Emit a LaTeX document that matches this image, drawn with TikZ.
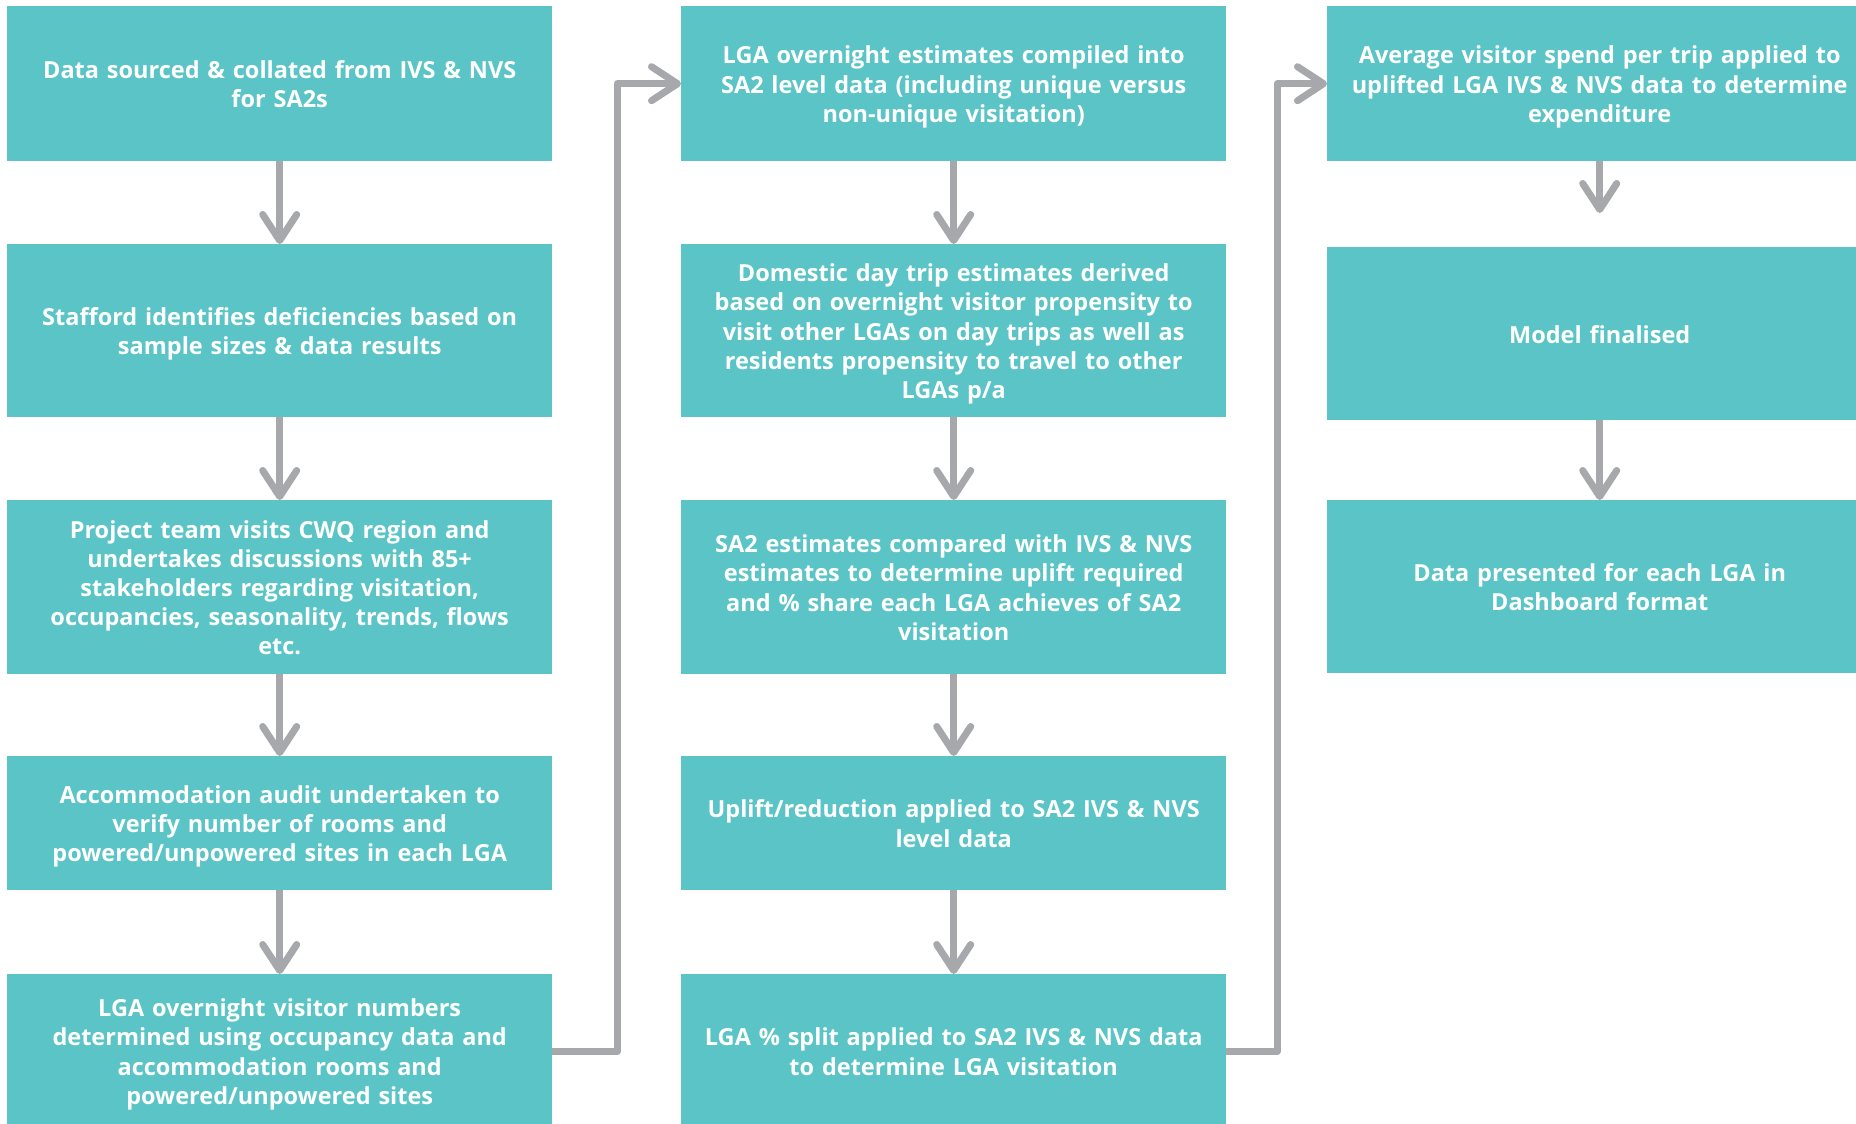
\documentclass[tikz,border=0pt]{standalone}
\usepackage{fontspec}
\setmainfont{Open Sans}
\usetikzlibrary{arrows.meta}
\definecolor{teal1}{HTML}{5AC4C6}
\definecolor{grey1}{HTML}{A6A8AB}
\begin{document}
\begin{tikzpicture}[x=1pt,y=-1pt,
  box/.style={fill=teal1, draw=none, anchor=north west, minimum width=545pt, text width=540pt, align=center, inner sep=0pt, text=white, font=\fontsize{23.5}{29.2}\selectfont\bfseries, execute at begin node=\rule{0pt}{27.5pt}, execute at end node=\strut},
  arr/.style={draw=grey1, line width=7pt, line join=round, -{Straight Barb[length=26pt,width=34pt,round]}}]
\useasboundingbox (0,0) rectangle (1856,1124);
\fill[white] (0,0) rectangle (1856,1124);
\clip (0,0) rectangle (1856,1124);
% column 1
\node[box, minimum height=155pt] (c1r1) at (7,6) {Data sourced \& collated from IVS \& NVS\\for SA2s};
\node[box, minimum height=173pt] (c1r2) at (7,244) {Stafford identifies deficiencies based on\\sample sizes \& data results};
\node[box, minimum height=174pt] (c1r3) at (7,500) {Project team visits CWQ region and\\undertakes discussions with 85+\\stakeholders regarding visitation,\\occupancies, seasonality, trends, flows\\etc.};
\node[box, minimum height=134pt] (c1r4) at (7,756) {Accommodation audit undertaken to\\verify number of rooms and\\powered/unpowered sites in each LGA};
\node[box, minimum height=154pt] (c1r5) at (7,974) {LGA overnight visitor numbers\\determined using occupancy data and\\accommodation rooms and\\powered/unpowered sites};
% column 2
\node[box, minimum height=155pt] (c2r1) at (681,6) {LGA overnight estimates compiled into\\SA2 level data (including unique versus\\non-unique visitation)};
\node[box, minimum height=173pt] (c2r2) at (681,244) {Domestic day trip estimates derived\\based on overnight visitor propensity to\\visit other LGAs on day trips as well as\\residents propensity to travel to other\\LGAs p/a};
\node[box, minimum height=174pt] (c2r3) at (681,500) {SA2 estimates compared with IVS \& NVS\\estimates to determine uplift required\\and \% share each LGA achieves of SA2\\visitation};
\node[box, minimum height=134pt] (c2r4) at (681,756) {Uplift/reduction applied to SA2 IVS \& NVS\\level data};
\node[box, minimum height=154pt] (c2r5) at (681,974) {LGA \% split applied to SA2 IVS \& NVS data\\to determine LGA visitation};
% column 3
\node[box, minimum height=155pt] (c3r1) at (1327,6) {Average visitor spend per trip applied to\\uplifted LGA IVS \& NVS data to determine\\expenditure};
\node[box, minimum height=173pt] (c3r2) at (1327,247) {Model finalised};
\node[box, minimum height=173pt] (c3r3) at (1327,500) {Data presented for each LGA in\\Dashboard format};
% arrows
\draw[arr] (c1r1) -- (c1r2);
\draw[arr] (c1r2) -- (c1r3);
\draw[arr] (c1r3) -- (c1r4);
\draw[arr] (c1r4) -- (c1r5);
\draw[arr] (c2r1) -- (c2r2);
\draw[arr] (c2r2) -- (c2r3);
\draw[arr] (c2r3) -- (c2r4);
\draw[arr] (c2r4) -- (c2r5);
\draw[arr, shorten >=34pt] (c3r1) -- (c3r2);
\draw[arr] (c3r2) -- (c3r3);
\draw[arr] (c1r5.east) -- ++(65,0) |- (c2r1.west);
\draw[arr] (c2r5.east) -- ++(51,0) |- (c3r1.west);
\end{tikzpicture}
\end{document}
